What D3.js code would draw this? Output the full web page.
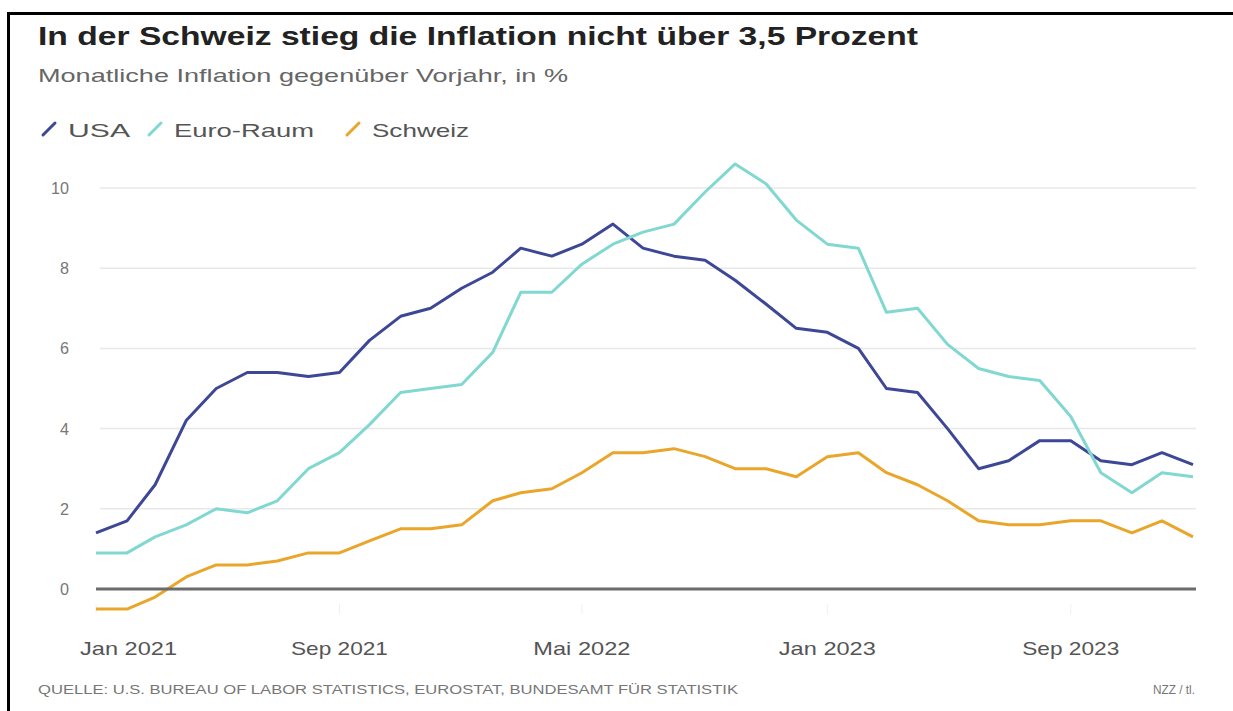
<!DOCTYPE html>
<html>
<head>
<meta charset="utf-8">
<script src="https://cdn.jsdelivr.net/npm/d3@7"></script>
<style>
  body { margin: 0; background: #fff; }
  svg { display: block; font-family: "Liberation Sans", Arial, sans-serif; }
</style>
</head>
<body>
<svg id="chart" width="1233" height="711"></svg>
<script>
// Monthly values Jan 2021 – Jan 2024
const months = d3.range(37).map(i => new Date(2021, i, 1));

const usa = [1.4, 1.7, 2.6, 4.2, 5.0, 5.4, 5.4, 5.3, 5.4, 6.2, 6.8, 7.0,
             7.5, 7.9, 8.5, 8.3, 8.6, 9.1, 8.5, 8.3, 8.2, 7.7, 7.1, 6.5,
             6.4, 6.0, 5.0, 4.9, 4.0, 3.0, 3.2, 3.7, 3.7, 3.2, 3.1, 3.4, 3.1];
const euro = [0.9, 0.9, 1.3, 1.6, 2.0, 1.9, 2.2, 3.0, 3.4, 4.1, 4.9, 5.0,
              5.1, 5.9, 7.4, 7.4, 8.1, 8.6, 8.9, 9.1, 9.9, 10.6, 10.1, 9.2,
              8.6, 8.5, 6.9, 7.0, 6.1, 5.5, 5.3, 5.2, 4.3, 2.9, 2.4, 2.9, 2.8];
const schweiz = [-0.5, -0.5, -0.2, 0.3, 0.6, 0.6, 0.7, 0.9, 0.9, 1.2, 1.5, 1.5,
                 1.6, 2.2, 2.4, 2.5, 2.9, 3.4, 3.4, 3.5, 3.3, 3.0, 3.0, 2.8,
                 3.3, 3.4, 2.9, 2.6, 2.2, 1.7, 1.6, 1.6, 1.7, 1.7, 1.4, 1.7, 1.3];

const seriesNames = ["USA", "Euro-Raum", "Schweiz"];
const seriesColors = ["#3d4796", "#80d8d1", "#e9a62a"];
const yTicks = [0, 2, 4, 6, 8, 10];
const xTicks = [new Date(2021, 0, 1), new Date(2021, 8, 1), new Date(2022, 4, 1),
                new Date(2023, 0, 1), new Date(2023, 8, 1)];
const xTickLabels = ["Jan 2021", "Sep 2021", "Mai 2022", "Jan 2023", "Sep 2023"];

const svg = d3.select("#chart");

// the source picture is stretched sideways, so texts get a fixed width
function stretched(sel, w) {
    return sel.attr("textLength", w).attr("lengthAdjust", "spacingAndGlyphs");
}

// frame (top and left edge)
svg.append("line").attr("x1", 7).attr("x2", 1233).attr("y1", 13.5).attr("y2", 13.5)
    .attr("stroke", "#000").attr("stroke-width", 3);
svg.append("line").attr("x1", 8.5).attr("x2", 8.5).attr("y1", 12).attr("y2", 711)
    .attr("stroke", "#000").attr("stroke-width", 3);

stretched(svg.append("text").attr("x", 38).attr("y", 45)
    .attr("font-size", 26).attr("font-weight", "bold").attr("fill", "#222")
    .text("In der Schweiz stieg die Inflation nicht über 3,5 Prozent"), 880);

stretched(svg.append("text").attr("x", 38).attr("y", 82)
    .attr("font-size", 19).attr("fill", "#666")
    .text("Monatliche Inflation gegenüber Vorjahr, in %"), 530);

// legend
const legendX = [42, 148, 346];
const legendW = [62, 140, 97];
const legend = svg.append("g");
seriesNames.forEach((name, i) => {
    const g = legend.append("g").attr("transform", `translate(${legendX[i]},129)`);
    g.append("line").attr("x1", 1).attr("y1", 6).attr("x2", 13).attr("y2", -6)
        .attr("stroke", seriesColors[i]).attr("stroke-width", 3).attr("stroke-linecap", "round");
    stretched(g.append("text").attr("x", 26).attr("y", 8)
        .attr("font-size", 19).attr("fill", "#555").text(name), legendW[i]);
});

const x = d3.scaleTime()
    .domain([months[0], months[months.length - 1]])
    .range([96, 1193]);

const y = d3.scaleLinear()
    .domain([0, 10])
    .range([589, 188]);

// grid
svg.append("g").selectAll("line")
    .data(yTicks.filter(d => d !== 0))
    .join("line")
    .attr("x1", 100).attr("x2", 1196)
    .attr("y1", d => y(d)).attr("y2", d => y(d))
    .attr("stroke", "#e8e8e8").attr("stroke-width", 1.5);

// y labels
svg.append("g").selectAll("text")
    .data(yTicks)
    .join("text")
    .attr("x", 69).attr("y", d => y(d) + 6)
    .attr("text-anchor", "end")
    .attr("font-size", 17).attr("fill", "#777")
    .attr("textLength", d => String(d).length * 9)
    .attr("lengthAdjust", "spacingAndGlyphs")
    .text(d => d);

// x ticks (faint) and labels
svg.append("g").selectAll("line")
    .data(xTicks)
    .join("line")
    .attr("x1", d => x(d)).attr("x2", d => x(d))
    .attr("y1", 604).attr("y2", 614)
    .attr("stroke", "#f0f0f0").attr("stroke-width", 1);

svg.append("g").selectAll("text")
    .data(xTicks)
    .join("text")
    .attr("x", (d, i) => i === 0 ? x(d) - 16 : x(d))
    .attr("y", 655)
    .attr("text-anchor", (d, i) => i === 0 ? "start" : "middle")
    .attr("font-size", 19).attr("fill", "#555")
    .attr("textLength", 97).attr("lengthAdjust", "spacingAndGlyphs")
    .text((d, i) => xTickLabels[i]);

// lines
const line = d3.line()
    .x((d, i) => x(months[i]))
    .y(d => y(d));

[usa, euro, schweiz].forEach((s, i) => {
    svg.append("path")
        .datum(s)
        .attr("fill", "none")
        .attr("stroke", seriesColors[i])
        .attr("stroke-width", 3)
        .attr("stroke-linejoin", "round")
        .attr("d", line);
});

// zero line
svg.append("line")
    .attr("x1", 96).attr("x2", 1196)
    .attr("y1", y(0)).attr("y2", y(0))
    .attr("stroke", "#6b6b6b").attr("stroke-width", 3);

// footer
stretched(svg.append("text").attr("x", 38).attr("y", 694)
    .attr("font-size", 12).attr("fill", "#777")
    .text("QUELLE: U.S. BUREAU OF LABOR STATISTICS, EUROSTAT, BUNDESAMT FÜR STATISTIK"), 700);
stretched(svg.append("text").attr("x", 1195).attr("y", 694)
    .attr("text-anchor", "end")
    .attr("font-size", 12).attr("fill", "#777")
    .text("NZZ / tl."), 42);
</script>
</body>
</html>
